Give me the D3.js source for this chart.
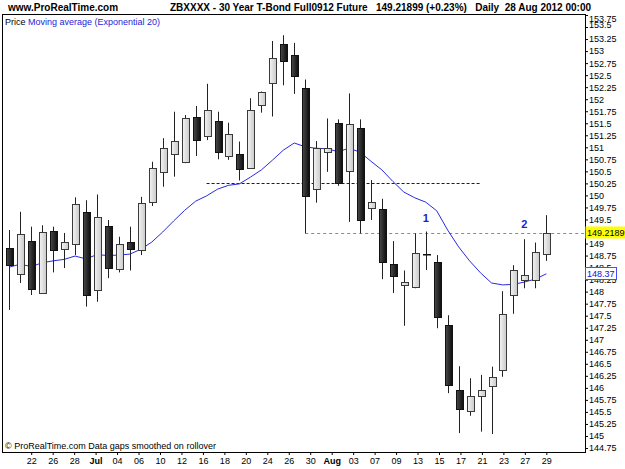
<!DOCTYPE html>
<html>
<head>
<meta charset="utf-8">
<script src="https://cdn.jsdelivr.net/npm/d3@7"></script>
<style>
  html, body { margin: 0; padding: 0; background: #fff; }
  svg { display: block; font-family: "Liberation Sans", Arial, sans-serif; }
</style>
</head>
<body>
<div id="chart"></div>
<script>

// Daily bars, ZB Sep 2012 (20 Jun - 28 Aug 2012)
const dates = [
    "2012-06-20", "2012-06-21", "2012-06-22", "2012-06-25", "2012-06-26",
    "2012-06-27", "2012-06-28", "2012-06-29", "2012-07-02", "2012-07-03",
    "2012-07-04", "2012-07-05", "2012-07-06", "2012-07-09", "2012-07-10",
    "2012-07-11", "2012-07-12", "2012-07-13", "2012-07-16", "2012-07-17",
    "2012-07-18", "2012-07-19", "2012-07-20", "2012-07-23", "2012-07-24",
    "2012-07-25", "2012-07-26", "2012-07-27", "2012-07-30", "2012-07-31",
    "2012-08-01", "2012-08-02", "2012-08-03", "2012-08-06", "2012-08-07",
    "2012-08-08", "2012-08-09", "2012-08-10", "2012-08-13", "2012-08-14",
    "2012-08-15", "2012-08-16", "2012-08-17", "2012-08-20", "2012-08-21",
    "2012-08-22", "2012-08-23", "2012-08-24", "2012-08-27", "2012-08-28"
];

const opens = [
    148.90, 148.35, 149.05, 147.99, 149.27, 148.88, 148.98, 149.65, 148.05, 149.37,
    148.45, 149.03, 148.88, 149.85, 150.49, 150.87, 150.69, 151.64, 151.23, 151.55,
    150.82, 150.87, 150.56, 151.88, 152.33, 153.15, 152.92, 152.24, 150.13, 150.91,
    151.51, 150.51, 151.41, 149.75, 149.72, 148.57, 148.15, 148.10, 148.79, 148.61,
    147.30, 145.95, 145.51, 145.83, 146.04, 146.37, 147.93, 148.24, 148.24, 148.78
];
const highs = [
    149.28, 149.66, 149.35, 149.38, 149.35, 149.22, 149.96, 149.90, 150.02, 149.49,
    149.14, 149.35, 149.97, 150.70, 151.19, 151.74, 151.67, 151.86, 152.32, 151.74,
    151.51, 151.12, 152.02, 152.16, 153.21, 153.33, 153.17, 152.41, 151.13, 151.60,
    151.58, 152.12, 151.58, 150.32, 149.93, 149.05, 148.44, 149.21, 149.25, 148.76,
    147.51, 146.45, 146.20, 146.27, 146.44, 148.01, 148.55, 149.09, 149.02, 149.59
];
const lows = [
    147.62, 148.18, 147.93, 147.97, 148.40, 148.49, 148.76, 147.69, 147.79, 148.28,
    148.40, 148.44, 148.76, 149.78, 150.18, 150.39, 150.67, 150.82, 151.15, 150.75,
    150.74, 150.31, 150.55, 151.72, 151.64, 152.29, 152.11, 149.21, 149.85, 150.49,
    150.20, 149.45, 149.21, 149.49, 148.26, 147.97, 147.29, 148.07, 148.45, 147.24,
    145.89, 145.06, 145.42, 145.09, 145.04, 146.23, 147.54, 148.07, 148.07, 148.64
];
const closes = [
    148.54, 149.19, 148.05, 149.25, 148.88, 149.03, 149.82, 147.93, 149.56, 148.49,
    148.98, 148.88, 149.85, 150.56, 150.98, 151.13, 151.60, 151.17, 151.77, 150.91,
    151.27, 150.56, 151.77, 152.15, 152.85, 152.80, 152.48, 150.00, 150.98, 150.99,
    150.26, 151.48, 149.50, 149.87, 148.61, 148.33, 148.21, 148.81, 148.78, 147.46,
    146.06, 145.55, 145.83, 145.95, 146.23, 147.54, 148.45, 148.34, 148.83, 149.21899
];

// Moving average (Exponential 20)
const emaValues = [
    148.51, 148.57, 148.52, 148.60, 148.64, 148.67, 148.74, 148.68, 148.77, 148.75,
    148.76, 148.78, 148.88, 149.03, 149.24, 149.47, 149.69, 149.88, 149.99, 150.13,
    150.21, 150.24, 150.38, 150.53, 150.73, 150.94, 151.09, 151.01, 150.98, 150.97,
    150.91, 150.98, 150.90, 150.71, 150.53, 150.29, 150.07, 149.95, 149.86, 149.68,
    149.28, 148.93, 148.64, 148.39, 148.18, 148.14, 148.15, 148.20, 148.26, 148.37
];

const xTickLabels = ["22", "26", "28", "Jul", "04", "06", "10", "12", "16", "18",
                     "20", "24", "26", "30", "Aug", "03", "07", "09", "13", "15",
                     "17", "21", "23", "27", "29"];
const monthLabels = ["Jul", "Aug"];

const lastPrice = 149.21899;
const lastChange = "+0.23%";

// Horizontal levels drawn on the chart: [price, from index, to index or null = right edge]
const levelPrices = [150.25, 149.21];
const levelFrom   = [18, 27];
const levelTo     = [43, null];

// Wave labels
const waveLabels = ["1", "2"];
const waveIndex  = [38, 47];
const wavePrice  = [149.53, 149.41];


const width = 625, height = 469;
const frame = {left: 2, top: 14, right: 585, bottom: 452};

const svg = d3.select("#chart")
    .append("svg")
        .attr("width", width)
        .attr("height", height);

// Set the ranges
const x = d3.scaleLinear().domain([0, dates.length - 1]).range([9.3, 546.3]);
const y = d3.scaleLinear().domain([144.75, 153.75]).range([448, 15]);

// Gradients for the candle bodies
const defs = svg.append("defs");
function addGradient(id, c1, c2) {
    let g = defs.append("linearGradient").attr("id", id)
        .attr("x1", "0%").attr("x2", "100%").attr("y1", "0%").attr("y2", "0%");
    g.append("stop").attr("offset", "0%").attr("stop-color", c1);
    g.append("stop").attr("offset", "100%").attr("stop-color", c2);
}
addGradient("gUp", "#f4f4f4", "#c9c9c9");
addGradient("gDown", "#4a4a4a", "#0c0c0c");

defs.append("clipPath").attr("id", "plotClip")
    .append("rect")
        .attr("x", frame.left).attr("y", frame.top)
        .attr("width", frame.right - frame.left)
        .attr("height", frame.bottom - frame.top);

// Header
svg.append("text")
    .attr("x", 8).attr("y", 11)
    .attr("font-size", 10).attr("font-weight", "bold")
    .text("www.ProRealTime.com");

svg.append("text")
    .attr("x", 170).attr("y", 11)
    .attr("font-size", 10).attr("font-weight", "bold")
    .attr("xml:space", "preserve")
    .text("ZBXXXX - 30 Year T-Bond Full0912 Future   "
          + lastPrice.toFixed(5) + " (" + lastChange + ")   Daily  28 Aug 2012 00:00");

// Frame
svg.append("rect")
    .attr("x", frame.left + 0.5).attr("y", frame.top + 0.5)
    .attr("width", frame.right - frame.left)
    .attr("height", frame.bottom - frame.top)
    .attr("fill", "#fff")
    .attr("stroke", "#000");

const plot = svg.append("g").attr("clip-path", "url(#plotClip)");

// Legend
const legend = plot.append("text")
    .attr("x", 5).attr("y", 25)
    .attr("font-size", 9);
legend.append("tspan").attr("fill", "#000").text("Price ");
legend.append("tspan").attr("fill", "#2424d8").text("Moving average (Exponential 20)");

// Footer note
plot.append("text")
    .attr("x", 5).attr("y", 449)
    .attr("font-size", 9)
    .text("\u00a9 ProRealTime.com  Data gaps smoothed on rollover");

// Horizontal levels
plot.selectAll("line.level")
        .data(levelPrices)
        .enter()
    .append("line")
        .attr("class", "level")
        .attr("x1", (d, i) => x(levelFrom[i]))
        .attr("x2", (d, i) => levelTo[i] === null ? frame.right : x(levelTo[i]))
        .attr("y1", d => Math.round(y(d)) + 0.5)
        .attr("y2", d => Math.round(y(d)) + 0.5)
        .attr("stroke", (d, i) => i === 0 ? "#141478" : "#8a8a8a")
        .attr("stroke-dasharray", (d, i) => i === 0 ? "3,2" : "3,3");

// Moving average line
const emaLine = d3.line()
    .x((d, i) => x(i))
    .y(d => y(d));

plot.append("path")
    .attr("d", emaLine(emaValues))
    .attr("fill", "none")
    .attr("stroke", "#2a2ae0")
    .attr("stroke-width", 1);

// Candles
const candles = plot.selectAll("g.candle")
        .data(dates)
        .enter()
    .append("g")
        .attr("class", "candle");

candles.append("line")
    .attr("x1", (d, i) => Math.round(x(i)) + 0.5)
    .attr("x2", (d, i) => Math.round(x(i)) + 0.5)
    .attr("y1", (d, i) => y(highs[i]))
    .attr("y2", (d, i) => y(lows[i]))
    .attr("stroke", "#222");

candles.append("rect")
    .attr("x", (d, i) => Math.round(x(i)) - 3 + 0.5)
    .attr("width", 7)
    .attr("y", (d, i) => Math.round(y(Math.max(opens[i], closes[i]))) + 0.5)
    .attr("height", (d, i) => Math.max(0.5, Math.round(Math.abs(y(opens[i]) - y(closes[i])))))
    .attr("fill", (d, i) => closes[i] >= opens[i] ? "url(#gUp)" : "url(#gDown)")
    .attr("stroke", (d, i) => closes[i] >= opens[i] ? "#3a3a3a" : "#111");

// Wave labels
plot.selectAll("text.wave")
        .data(waveLabels)
        .enter()
    .append("text")
        .attr("class", "wave")
        .attr("x", (d, i) => x(waveIndex[i]))
        .attr("y", (d, i) => y(wavePrice[i]))
        .attr("text-anchor", "middle")
        .attr("dy", "0.35em")
        .attr("font-size", 11)
        .attr("font-weight", "bold")
        .attr("fill", "#2020d0")
        .text(d => d);

// Add the Y Axis
const yTicks = d3.range(144.75, 153.76, 0.25);
const yAxis = d3.axisRight(y)
    .tickValues(yTicks)
    .tickSize(3)
    .tickPadding(1)
    .tickFormat(d => String(+d.toFixed(2)));

const yAxisG = svg.append("g")
    .attr("transform", "translate(" + frame.right + ",0)")
    .call(yAxis);
yAxisG.select(".domain").remove();
yAxisG.selectAll("text")
    .attr("font-size", 9)
    .attr("font-family", "Liberation Sans, Arial, sans-serif")
    .attr("fill", "#000")
    .attr("dy", d => d > 153.7 ? "0.75em" : (d > 153.4 ? "0.1em" : "0.32em"));

// Current price and moving average markers on the axis
const lastEma = emaValues[emaValues.length - 1];
const marks = [
    {value: lastPrice, text: lastPrice.toFixed(5), fill: "#ffff00", stroke: "none", color: "#000", w: 42},
    {value: lastEma, text: lastEma.toFixed(2), fill: "#fff", stroke: "#4a4aff", color: "#1010d0", w: 31}
];
const markG = svg.selectAll("g.mark")
        .data(marks)
        .enter()
    .append("g")
        .attr("class", "mark")
        .attr("transform", d => "translate(" + frame.right + "," + Math.round(y(d.value)) + ")");
markG.append("rect")
    .attr("x", 0.5).attr("y", -6.5)
    .attr("width", d => d.w).attr("height", 12)
    .attr("fill", d => d.fill)
    .attr("stroke", d => d.stroke);
markG.append("text")
    .attr("x", 2).attr("dy", "0.35em")
    .attr("font-size", 9)
    .attr("fill", d => d.color)
    .text(d => d.text);

// Add the X Axis
const xLabelPos = d3.scalePoint()
    .domain(d3.range(xTickLabels.length))
    .range([x(2), x(dates.length - 1)]);

const xAxis = d3.axisBottom(xLabelPos)
    .tickSize(3)
    .tickPadding(3)
    .tickFormat(i => xTickLabels[i]);

const xAxisG = svg.append("g")
    .attr("transform", "translate(0," + frame.bottom + ")")
    .call(xAxis);
xAxisG.select(".domain").remove();
xAxisG.selectAll("text")
    .attr("font-size", 9)
    .attr("font-family", "Liberation Sans, Arial, sans-serif")
    .attr("fill", "#000")
    .attr("font-weight", i => monthLabels.includes(xTickLabels[i]) ? "bold" : "normal");

</script>
</body>
</html>
